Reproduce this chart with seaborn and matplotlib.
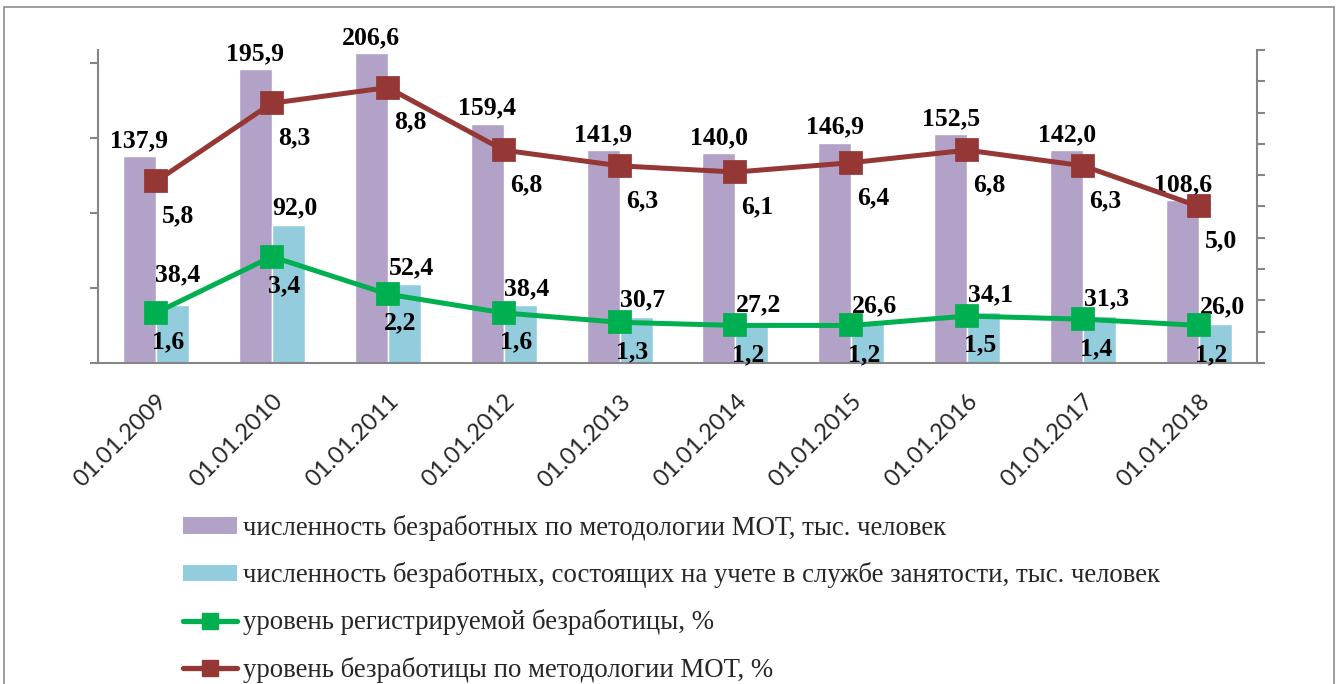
import numpy as np
import pandas as pd
import matplotlib.pyplot as plt
import matplotlib.transforms as mtransforms
import seaborn as sns
from matplotlib.patches import Patch, Rectangle
from matplotlib.lines import Line2D

# Data
dates = ["01.01.2009", "01.01.2010", "01.01.2011", "01.01.2012", "01.01.2013",
         "01.01.2014", "01.01.2015", "01.01.2016", "01.01.2017", "01.01.2018"]
ilo_count = [137.9, 195.9, 206.6, 159.4, 141.9, 140.0, 146.9, 152.5, 142.0, 108.6]
registered_count = [38.4, 92.0, 52.4, 38.4, 30.7, 27.2, 26.6, 34.1, 31.3, 26.0]
registered_rate = [1.6, 3.4, 2.2, 1.6, 1.3, 1.2, 1.2, 1.5, 1.4, 1.2]
ilo_rate = [5.8, 8.3, 8.8, 6.8, 6.3, 6.1, 6.4, 6.8, 6.3, 5.0]

name_ilo_count = "численность безработных по методологии МОТ, тыс. человек"
name_reg_count = "численность безработных, состоящих на учете в службе занятости, тыс. человек"
name_reg_rate = "уровень регистрируемой безработицы, %"
name_ilo_rate = "уровень безработицы по методологии МОТ, %"

purple = "#B3A2C7"
cyan = "#93CDDD"
green = "#00B050"
red = "#953735"
axis_gray = "#868686"

bars_df = pd.DataFrame({
    "date": dates * 2,
    "value": ilo_count + registered_count,
    "series": [name_ilo_count] * len(dates) + [name_reg_count] * len(dates),
})

sns.set_theme(style="white")
plt.rcParams["font.family"] = ["Liberation Serif", "DejaVu Serif"]


def fmt(v):
    return f"{v:.1f}".replace(".", ",")


fig = plt.figure(figsize=(13.38, 6.84), dpi=100)
ax = fig.add_axes([0.0732, 0.4693, 0.8663, 0.4576])

sns.barplot(data=bars_df, x="date", y="value", hue="series",
            hue_order=[name_ilo_count, name_reg_count],
            palette={name_ilo_count: purple, name_reg_count: cyan},
            width=0.57, saturation=1, legend=False, ax=ax)

ax2 = ax.twinx()
sns.pointplot(x=dates, y=registered_rate, color=green, markers="s",
              markersize=14, linewidth=3.6, errorbar=None, ax=ax2)
sns.pointplot(x=dates, y=ilo_rate, color=red, markers="s",
              markersize=14, linewidth=3.6, errorbar=None, ax=ax2)

# bar value labels
label_font = dict(fontsize=18.5, fontweight="bold", color="black")
ax.bar_label(ax.containers[0], labels=[fmt(v) for v in ilo_count], padding=3, **label_font)
anns = ax.bar_label(ax.containers[1], labels=[fmt(v) for v in registered_count],
                    padding=4, **label_font)
for a in anns:
    a.xyann = (5, a.xyann[1])
anns[0].xyann = (4, 14)

# line value labels
for i, v in enumerate(registered_rate):
    ax2.annotate(fmt(v), (i, v), xytext=(9, -21), textcoords="offset points",
                 ha="center", va="center", **label_font)
for i, v in enumerate(ilo_rate):
    ax2.annotate(fmt(v), (i, v), xytext=(16, -25), textcoords="offset points",
                 ha="center", va="center", **label_font)

# axes
ax.set_xlim(-0.5, len(dates) - 0.5)
ax.set_ylim(0, 208.7)
ax2.set_ylim(0, 10)
ax.set_xlabel("")
ax.set_ylabel("")
ax2.set_ylabel("")

ax.set_xticks(range(len(dates)))
ax.set_xticklabels(dates, rotation=45, ha="right", rotation_mode="anchor",
                   fontfamily="Lato", fontsize=17)
shift = mtransforms.ScaledTranslation(-6 / 100, 0, fig.dpi_scale_trans)
for lab in ax.get_xticklabels():
    lab.set_transform(lab.get_transform() + shift)
ax.set_xticks(np.arange(-0.5, len(dates), 1), minor=True)
ax.tick_params(axis="x", which="major", length=0, pad=20)
ax.tick_params(axis="x", which="minor", length=6, width=1.5, color=axis_gray, direction="out")
ax.set_yticks([0, 50, 100, 150, 200])
ax.set_yticklabels([])
ax.tick_params(axis="y", length=6, width=1.5, color=axis_gray, direction="out", left=True)
ax2.set_yticks(range(11))
ax2.set_yticklabels([])
ax2.tick_params(axis="y", length=6, width=1.5, color=axis_gray, direction="out", right=True)

for a in (ax, ax2):
    for s in a.spines.values():
        s.set_visible(False)
ax.spines["left"].set_visible(True)
ax.spines["bottom"].set_visible(True)
ax2.spines["right"].set_visible(True)
for s in (ax.spines["left"], ax.spines["bottom"], ax2.spines["right"]):
    s.set_color(axis_gray)
    s.set_linewidth(1.5)

# legend
handles = [
    Patch(facecolor=purple, edgecolor="none"),
    Patch(facecolor=cyan, edgecolor="none"),
    Line2D([], [], color=green, lw=3.8, marker="s", markersize=12),
    Line2D([], [], color=red, lw=3.8, marker="s", markersize=12),
]
fig.legend(handles, [name_ilo_count, name_reg_count, name_reg_rate, name_ilo_rate],
           loc="upper left", bbox_to_anchor=(183 / 1338, 1 - 515 / 684),
           frameon=False, prop=dict(family="Liberation Serif", size=19.3),
           handlelength=2.0, handleheight=0.55, handletextpad=0.23,
           labelspacing=0.79, borderpad=0, borderaxespad=0)

# outer frame
fig.patches.append(Rectangle((0.003, -0.05), 0.994, 1.04, transform=fig.transFigure,
                             fill=False, edgecolor="#8c8c8c", lw=1.2))

fig.savefig("out.png", dpi=100)
